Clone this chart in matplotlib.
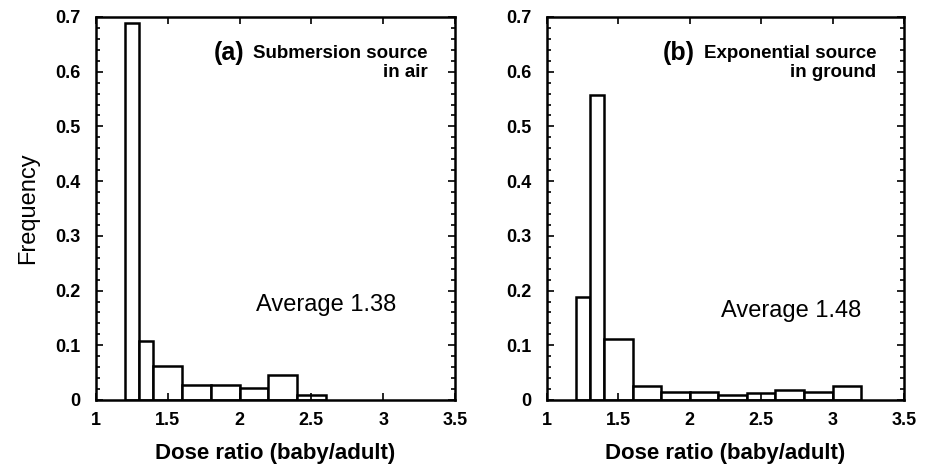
import numpy as np
import matplotlib.pyplot as plt
from matplotlib.ticker import MultipleLocator

# bin edges (dose ratio) and frequencies
edges_a = [1.2, 1.3, 1.4, 1.6, 1.8, 2.0, 2.2, 2.4, 2.6]
freq_a = [0.689, 0.108, 0.062, 0.027, 0.027, 0.022, 0.046, 0.009]

edges_b = [1.2, 1.3, 1.4, 1.6, 1.8, 2.0, 2.2, 2.4, 2.6, 2.8, 3.0, 3.2]
freq_b = [0.189, 0.557, 0.111, 0.026, 0.015, 0.015, 0.009, 0.012, 0.019, 0.015, 0.025]

tags = ['(a)', '(b)']
titles = [('Submersion source', 'in air'), ('Exponential source', 'in ground')]
averages = ['Average 1.38', 'Average 1.48']

plt.rcParams['font.family'] = ['Liberation Sans', 'DejaVu Sans']

fig = plt.figure(figsize=(9.28, 4.67), dpi=100)
ax1 = fig.add_axes([0.1034, 0.1435, 0.3869, 0.8201])
ax2 = fig.add_axes([0.5894, 0.1435, 0.3847, 0.8201])

for k, (ax, edges, freq) in enumerate([(ax1, edges_a, freq_a), (ax2, edges_b, freq_b)]):
    e = np.array(edges)
    ax.bar(e[:-1], freq, width=np.diff(e), align='edge',
           facecolor='white', edgecolor='black', linewidth=1.8)
    ax.set_xlim(1, 3.5)
    ax.set_ylim(0, 0.7)
    ax.yaxis.set_minor_locator(MultipleLocator(0.02))
    ax.set_xticks([1, 1.5, 2, 2.5, 3, 3.5])
    ax.set_xticklabels(['1', '1.5', '2', '2.5', '3', '3.5'])
    ax.set_yticks([0, 0.1, 0.2, 0.3, 0.4, 0.5, 0.6, 0.7])
    ax.set_yticklabels(['0', '0.1', '0.2', '0.3', '0.4', '0.5', '0.6', '0.7'])
    ax.tick_params(which='both', direction='in', top=True, right=True, width=1.2)
    ax.tick_params(which='major', length=5, labelsize=13)
    ax.tick_params(axis='x', which='major', pad=9)
    ax.tick_params(axis='y', which='major', pad=11)
    ax.tick_params(which='minor', length=3)
    for lab in ax.get_xticklabels() + ax.get_yticklabels():
        lab.set_fontweight('bold')
    for s in ax.spines.values():
        s.set_linewidth(1.8)
    ax.set_xlabel('Dose ratio (baby/adult)', fontsize=16, fontweight='bold', labelpad=10)

    ax.text(0.413, 0.905, tags[k], transform=ax.transAxes, fontsize=18,
            fontweight='bold', ha='right', va='center')
    ax.text(0.923, 0.905, titles[k][0], transform=ax.transAxes, fontsize=13.5,
            fontweight='bold', ha='right', va='center')
    ax.text(0.923, 0.855, titles[k][1], transform=ax.transAxes, fontsize=13.5,
            fontweight='bold', ha='right', va='center')

ax1.text(0.64, 0.248, averages[0], transform=ax1.transAxes, fontsize=17,
         ha='center', va='center')
ax2.text(0.685, 0.232, averages[1], transform=ax2.transAxes, fontsize=17,
         ha='center', va='center')

ax1.set_ylabel('Frequency', fontsize=17, labelpad=12)

fig.savefig('out.png', dpi=100)
